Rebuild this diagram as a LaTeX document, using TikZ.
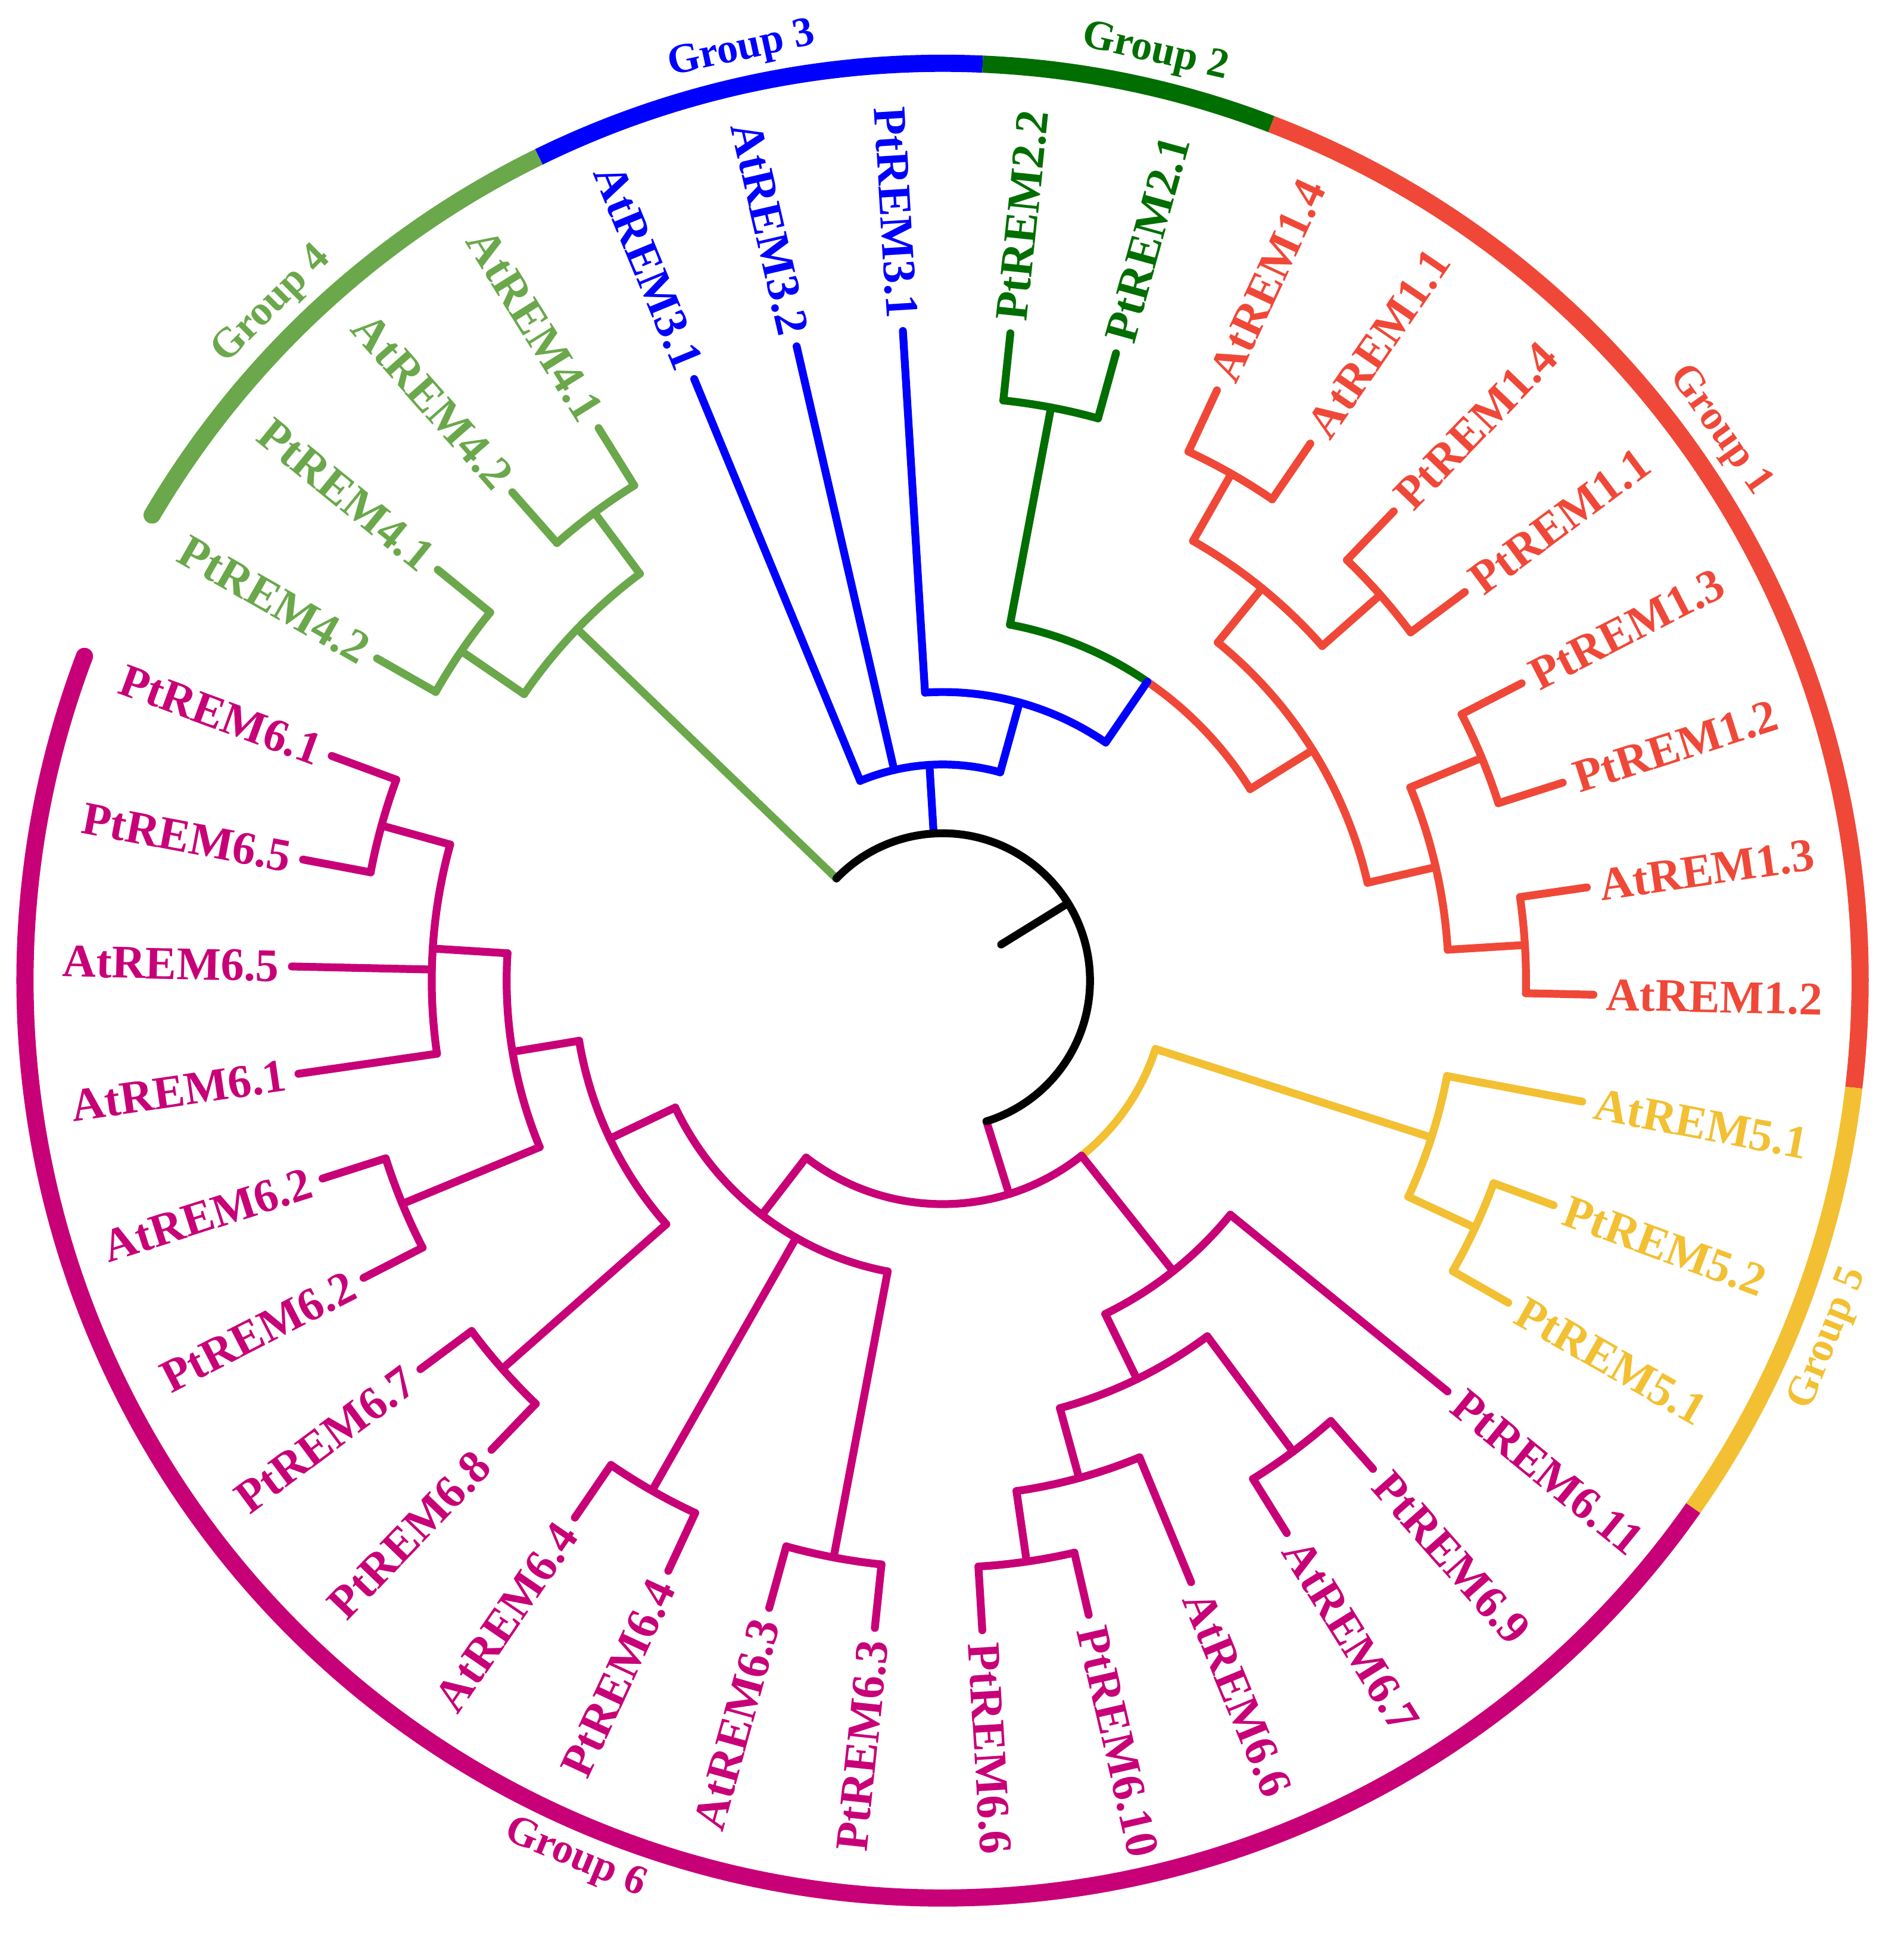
\documentclass[tikz,border=0pt]{standalone}
\usepackage{fontspec}
\setmainfont{Liberation Serif}
\definecolor{g1}{RGB}{240,72,56}
\definecolor{g2}{RGB}{0,110,0}
\definecolor{g3}{RGB}{0,0,255}
\definecolor{g4}{RGB}{106,168,75}
\definecolor{g5}{RGB}{242,192,50}
\definecolor{g6}{RGB}{200,0,120}
\tikzset{
  branch/.style={line width=3.2pt, line cap=round, line join=round},
  leaf/.style={inner sep=0pt, font=\fontsize{19}{19}\selectfont\bfseries},
  grp/.style={line width=7pt},
  grplabel/.style={inner sep=0pt, font=\fontsize{17}{17}\selectfont\bfseries}
}
% radial segment: angle, from r, to r
\newcommand\rad[3]{\draw[branch] (#1:#2) -- (#1:#3);}
% arc: start angle, end angle, radius
\newcommand\arcat[3]{\draw[branch] (#1:#3) arc[start angle=#1, end angle=#2, radius=#3];}
\begin{document}
\begin{tikzpicture}[x=0.5pt,y=0.5pt]
\useasboundingbox (-767.5,-775.5) rectangle (782.5,798.5);

% leaves and labels
\foreach \n/\k/\c/\p in {PtREM3.1/0/g3/235, PtREM2.2/1/g2/475, PtREM2.1/2/g2/475,
  AtREM1.4/3/g1/475, AtREM1.1/4/g1/475, PtREM1.4/5/g1/475, PtREM1.1/6/g1/475,
  PtREM1.3/7/g1/475, PtREM1.2/8/g1/475, AtREM1.3/9/g1/475, AtREM1.2/10/g1/475,
  AtREM5.1/11/g5/418, PtREM5.2/12/g5/478, PtREM5.1/13/g5/478,
  PtREM6.11/14/g6/302, PtREM6.9/15/g6/478, AtREM6.7/16/g6/478, AtREM6.6/17/g6/420,
  PtREM6.10/18/g6/478, PtREM6.6/19/g6/478, PtREM6.3/20/g6/478, AtREM6.3/21/g6/478,
  PtREM6.4/22/g6/478, AtREM6.4/23/g6/478, PtREM6.8/24/g6/478, PtREM6.7/25/g6/478,
  PtREM6.2/26/g6/476, AtREM6.2/27/g6/476, AtREM6.1/28/g6/416, AtREM6.5/29/g6/416,
  PtREM6.5/30/g6/474, PtREM6.1/31/g6/474,
  PtREM4.2/32/g4/475, PtREM4.1/33/g4/475, AtREM4.2/34/g4/475, AtREM4.1/35/g4/475,
  AtREM3.1/36/g3/176, AtREM3.2/37/g3/176}{
  \pgfmathsetmacro\a{93.5-9.474*\k}
  \pgfmathtruncatemacro\f{(\a>90)||(\a<-90)}
  \draw[branch,color=\c] (\a:\p) -- (\a:530);
  \ifnum\f=1
    \node[leaf,text=\c,anchor=east,rotate=\a+180] (l\k) at (\a:540) {\n};
  \else
    \node[leaf,text=\c,anchor=west,rotate=\a] (l\k) at (\a:540) {\n};
  \fi
}

% group 1
\begin{scope}[color=g1]
\arcat{65.08}{55.6}{475} \arcat{46.13}{36.66}{475}
\arcat{27.18}{17.71}{475} \arcat{8.23}{-1.24}{475}
\rad{60.34}{412}{475} \rad{41.40}{412}{475}
\rad{22.45}{412}{475} \rad{3.50}{412}{475}
\arcat{60.34}{41.40}{412} \arcat{22.45}{3.50}{412}
\rad{50.87}{355}{412} \rad{12.97}{355}{412}
\arcat{50.87}{12.97}{355}
\rad{31.92}{295}{355}
\arcat{55.6}{31.92}{295}
\end{scope}
% group 2
\begin{scope}[color=g2]
\arcat{79.29}{55.6}{295}
\rad{79.29}{295}{475}
\arcat{84.03}{74.55}{475}
\end{scope}
% group 3
\begin{scope}[color=g3]
\rad{55.6}{235}{295}
\arcat{93.5}{55.6}{235}
\rad{74.55}{176}{235}
\arcat{112.44}{74.55}{176}
\rad{93.5}{120}{176}
\end{scope}
% group 4
\begin{scope}[color=g4]
\rad{136.1}{120}{413}
\arcat{145.6}{126.65}{413}
\rad{145.6}{413}{475} \rad{126.65}{413}{475}
\arcat{150.34}{140.86}{475} \arcat{131.39}{121.92}{475}
\end{scope}
% group 5
\begin{scope}[color=g5]
\arcat{-51.57}{-17.8}{182}
\rad{-17.8}{182}{418}
\arcat{-10.71}{-24.9}{418}
\rad{-24.9}{418}{478}
\arcat{-20.19}{-29.66}{478}
\end{scope}
% group 6
\begin{scope}[color=g6]
\rad{-72.7}{120}{182}
\arcat{-127.65}{-51.57}{182}
\rad{-51.57}{182}{302}
\arcat{-39.14}{-64.0}{302}
\rad{-64.0}{302}{361}
\arcat{-53.35}{-74.66}{361}
\rad{-53.35}{361}{478}
\arcat{-48.61}{-58.08}{478}
\rad{-74.66}{361}{420}
\arcat{-67.56}{-81.77}{420}
\rad{-81.77}{420}{478}
\arcat{-77.03}{-86.5}{478}
\rad{-127.65}{182}{241}
\arcat{-154.6}{-100.7}{241}
\rad{-100.7}{241}{478} \arcat{-95.98}{-105.45}{478}
\rad{-119.67}{241}{478} \arcat{-114.93}{-124.4}{478}
\rad{-154.6}{241}{300}
\arcat{-170.6}{-138.6}{300}
\rad{-138.6}{300}{478} \arcat{-133.87}{-143.35}{478}
\rad{-170.6}{300}{355}
\arcat{-157.55}{-183.6}{355}
\rad{-157.55}{355}{476} \arcat{-152.82}{-162.29}{476}
\rad{-183.6}{355}{416}
\arcat{-171.77}{-195.45}{416}
\rad{-195.45}{416}{474} \arcat{-190.72}{-200.19}{474}
\end{scope}
% root
\arcat{136.1}{-72.7}{120}
\rad{31.7}{56}{120}

% outer group rings
\draw[grp,g4,line cap=round] (149.5:747) arc[start angle=149.5, end angle=116.1, radius=747];
\draw[grp,g3] (116.1:747) arc[start angle=116.1, end angle=87.5, radius=747];
\draw[grp,g2] (87.5:747) arc[start angle=87.5, end angle=69, radius=747];
\draw[grp,g1] (69:747) arc[start angle=69, end angle=-6.7, radius=747];
\draw[grp,g6,line cap=round] (-200.7:747) arc[start angle=-200.7, end angle=-35.1, radius=747];
\draw[grp,g5] (-35.1:747) arc[start angle=-35.1, end angle=-6.7, radius=747];

\node[grplabel,text=g1,rotate=-54.7] (grp1) at (35.3:775) {Group 1};
\node[grplabel,text=g2,rotate=-12.9] (grp2) at (77.1:775) {Group 2};
\node[grplabel,text=g3,rotate=12.2] (grp3) at (102.2:775) {Group 3};
\node[grplabel,text=g4,rotate=44.8] (grp4) at (134.8:775) {Group 4};
\node[grplabel,text=g5,rotate=68] (grp5) at (-22:778) {Group 5};
\node[grplabel,text=g6,rotate=-22.7] (grp6) at (-112.7:775) {Group 6};
\end{tikzpicture}
\end{document}
